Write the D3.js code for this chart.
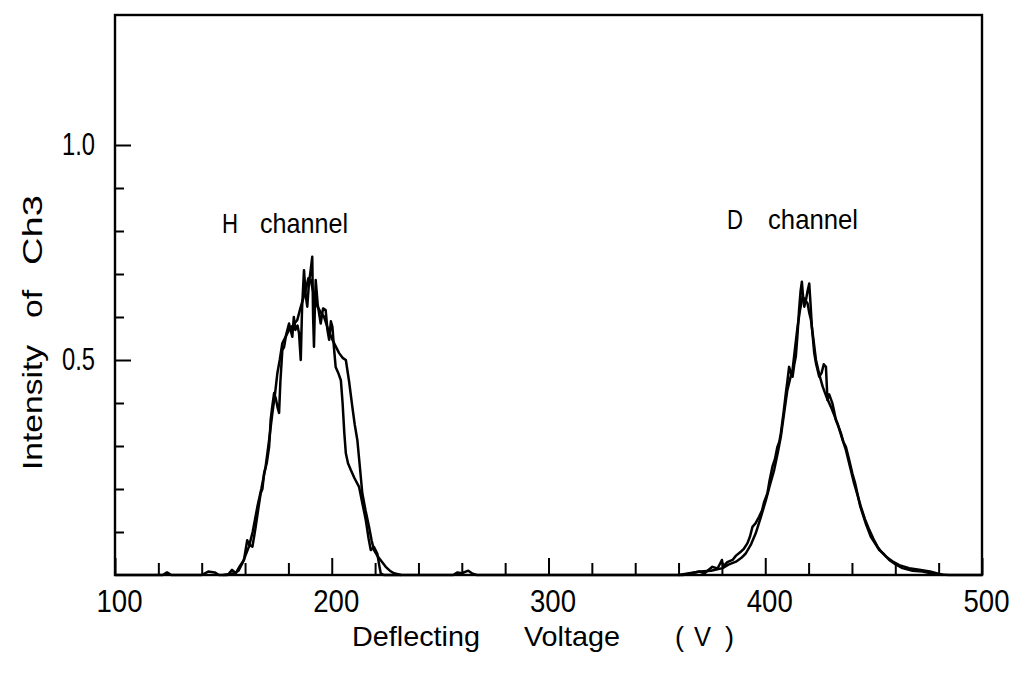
<!DOCTYPE html>
<html lang="en">
<head>
<meta charset="UTF-8">
<title>Intensity of Ch3 vs Deflecting Voltage</title>
<script src="https://d3js.org/d3.v7.min.js"></script>
<style>
  html, body { margin: 0; padding: 0; background: #fff; }
  svg { display: block; }
  text { font-family: "Liberation Sans", Arial, sans-serif; fill: #000; }
</style>
</head>
<body>
<div id="chart"></div>
<script>
// ---- data ----
const xTicksMajor = [100, 200, 300, 400, 500];
const xTicksMinor = [120, 140, 160, 180, 220, 240, 260, 280, 320, 340, 360, 380, 420, 440, 460, 480];
const yTicksMajor = [0.5, 1.0];
const yTicksMinor = [0.1, 0.2, 0.3, 0.4, 0.6, 0.7, 0.8, 0.9];
const yTickLabels = ['0.5', '1.0'];

// H channel, noisy trace  [voltage, intensity]
const hTrace1 = [
  [100,0],[122,0],[124,0.006],[126,0],[140,0],[143,0.008],[146,0.006],[148,0],[152,0],[154,0.012],
  [155.7,0.004],[157.5,0.02],[159.5,0.035],[161,0.081],[162,0.07],[163.4,0.066],[164.2,0.09],[164.9,0.112],
  [166,0.15],[167.2,0.19],[168,0.2],[168.8,0.237],[170,0.26],[171.1,0.298],[171.5,0.33],[171.8,0.36],
  [172.5,0.39],[173.4,0.423],[174.2,0.41],[175,0.39],[175.7,0.377],[176.3,0.45],[177.2,0.523],[178,0.53],
  [179,0.56],[180.3,0.585],[181,0.57],[181.8,0.554],[182.5,0.6],[183.2,0.57],[184.2,0.58],[184.9,0.562],
  [185.7,0.5],[186.3,0.62],[187.2,0.709],[188,0.65],[188.7,0.624],[189.5,0.68],[190.3,0.71],[191,0.74],
  [191.4,0.6],[191.8,0.531],[192.2,0.62],[192.6,0.686],[193.5,0.63],[194.9,0.585],[196,0.62],[197.2,0.616],
  [198,0.57],[198.8,0.547],[199.6,0.59],[200.3,0.577],[201,0.53],[201.8,0.484],[203,0.47],[204.2,0.453],
  [205,0.4],[205.8,0.33],[206.5,0.283],[207.5,0.26],[208.8,0.244],[210.5,0.225],[212.6,0.205],[214,0.17],
  [215.7,0.128],[217,0.085],[218,0.058],[219.5,0.065],[221,0.05],[222,0.02],[222.6,0.004],[224,0],
  [256,0],[258,0.006],[260,0.004],[263,0.01],[265,0.003],[267,0],[300,0]
];

// H channel, second (smoother) trace
const hTrace2 = [
  [150,0],[155,0.004],[157,0.01],[159,0.03],[161.8,0.066],[163.5,0.1],[165.7,0.159],[167.5,0.2],
  [169.5,0.252],[171,0.31],[172.6,0.376],[173.8,0.42],[174.9,0.469],[176,0.5],[177.2,0.539],[178.8,0.555],
  [180.3,0.57],[182,0.58],[184.1,0.593],[185.5,0.62],[188,0.663],[189.2,0.69],[190.3,0.686],[191.8,0.65],
  [193.4,0.624],[195,0.61],[196.4,0.601],[198.4,0.57],[200.3,0.547],[202,0.53],[203.4,0.516],[205,0.505],
  [206.5,0.5],[208,0.45],[209.5,0.391],[210.6,0.35],[211.8,0.314],[213,0.25],[214.1,0.19],[215.6,0.15],
  [217.2,0.112],[218.4,0.08],[219.5,0.058],[221,0.045],[222.5,0.035],[224.9,0.019],[226.8,0.01],
  [228.7,0.004],[232,0]
];

// D channel, noisy trace
const dTrace1 = [
  [300,0],[362,0],[366,0.004],[369.5,0.008],[372,0.004],[375.6,0.019],[378,0.015],[380,0.035],[380.6,0.02],
  [382.5,0.03],[384.9,0.035],[386.5,0.045],[388.7,0.054],[390,0.06],[391.8,0.074],[393,0.09],[394.1,0.112],
  [395.5,0.12],[397.2,0.136],[398.5,0.15],[399.5,0.17],[401,0.19],[402,0.22],[403.3,0.252],[404.5,0.27],
  [405.6,0.298],[406.5,0.31],[407.2,0.33],[408.5,0.38],[409.5,0.423],[410.2,0.45],[411,0.484],[411.8,0.47],
  [412.6,0.461],[413.4,0.49],[414.1,0.508],[414.9,0.56],[415.6,0.616],[416.3,0.66],[416.9,0.682],[417.4,0.65],
  [418,0.624],[418.8,0.64],[419.5,0.66],[420.3,0.678],[420.9,0.63],[421.5,0.577],[422,0.55],[422.6,0.516],
  [423.5,0.49],[424.9,0.461],[426,0.47],[427,0.49],[428,0.484],[428.7,0.407],[429.5,0.42],[431,0.399],
  [431.8,0.38],[432.6,0.36],[433.8,0.345],[434.9,0.33],[436,0.31],[437.2,0.298],[438.6,0.27],[440.2,0.236],
  [441.4,0.215],[442.5,0.19],[443.8,0.16],[444.9,0.143],[446.5,0.118],[448.7,0.089],[450.5,0.075],
  [452.6,0.058],[454.5,0.05],[457.2,0.035],[460,0.025],[463.3,0.016],[468,0.01],[472.6,0.008],[478,0.002],
  [485,0],[500,0]
];

// D channel, second trace
const dTrace2 = [
  [360,0],[365,0.004],[370,0.008],[375,0.01],[380.3,0.016],[383,0.024],[386.5,0.031],[389,0.04],[391,0.05],
  [393.5,0.072],[395.6,0.097],[398,0.135],[400.3,0.174],[402.2,0.21],[404.1,0.244],[405.8,0.285],[407.2,0.322],
  [408.8,0.38],[410.2,0.43],[411.4,0.455],[412.6,0.477],[413.8,0.53],[414.9,0.577],[416,0.615],[417.2,0.647],
  [418.3,0.64],[419.5,0.632],[420.3,0.61],[421.1,0.593],[422.3,0.545],[423.4,0.5],[425,0.465],[426.5,0.438],
  [428.4,0.412],[430.3,0.391],[431.8,0.372],[433.3,0.353],[435.2,0.322],[437.2,0.291],[439.1,0.252],
  [441,0.213],[442.6,0.185],[444.1,0.159],[446,0.13],[448,0.105],[450,0.083],[451.8,0.066],[453.7,0.053],
  [455.6,0.043],[458.7,0.032],[461.8,0.023],[466.4,0.016],[471,0.012],[476,0.008],[482,0]
];

const traces = [hTrace1, hTrace2, dTrace1, dTrace2];

// ---- layout ----
const width = 1020;
const height = 674;
const plot = { left: 115, right: 982, top: 15, bottom: 575 };

// words of the hand-lettered captions: [text, x, y, width]
const captionWords = [
  ['H', 222, 233, 16], ['channel', 260, 233, 88],
  ['D', 727, 229, 16], ['channel', 768, 229, 90],
  ['Deflecting', 352, 646, 128], ['Voltage', 524, 646, 96], ['(', 675, 646, 9], ['V', 694, 646, 17], [')', 725, 646, 9]
];
// rotated y title: [text, start y (screen), length]
const yTitleWords = [['Intensity', 470, 125], ['of', 318, 28], ['Ch3', 265, 70]];

const svg = d3.select('#chart')
  .append('svg')
  .attr('width', width)
  .attr('height', height);

const x = d3.scaleLinear().domain([100, 500]).range([plot.left, plot.right]);
const y = d3.scaleLinear().domain([0, 1.3]).range([plot.bottom, plot.bottom - 1.3 * 430]);

// frame
svg.append('rect')
  .attr('x', plot.left)
  .attr('y', plot.top)
  .attr('width', plot.right - plot.left)
  .attr('height', plot.bottom - plot.top)
  .attr('fill', 'none')
  .attr('stroke', '#000')
  .attr('stroke-width', 2.4);

// x axis: ticks point inward
const xMinor = d3.axisBottom(x).tickValues(xTicksMinor).tickSize(-12).tickFormat('');
const xMajor = d3.axisBottom(x).tickValues(xTicksMajor).tickSize(-17).tickPadding(15)
  .tickFormat(d3.format('d'));

svg.append('g').attr('transform', `translate(0,${plot.bottom})`).call(xMinor);
const gx = svg.append('g').attr('transform', `translate(0,${plot.bottom})`).call(xMajor);
gx.selectAll('text')
  .attr('font-size', 31)
  .attr('dy', '0.71em')
  .attr('dx', 4)
  .attr('textLength', 46)
  .attr('lengthAdjust', 'spacingAndGlyphs');

// y axis
const yMinor = d3.axisLeft(y).tickValues(yTicksMinor).tickSize(-9).tickFormat('');
const yMajor = d3.axisLeft(y).tickValues(yTicksMajor).tickSize(-16).tickPadding(20)
  .tickFormat((d, i) => yTickLabels[i]);

svg.append('g').attr('transform', `translate(${plot.left},0)`).call(yMinor);
const gy = svg.append('g').attr('transform', `translate(${plot.left},0)`).call(yMajor);
gy.selectAll('text')
  .attr('font-size', 31)
  .attr('textLength', 33)
  .attr('lengthAdjust', 'spacingAndGlyphs');

svg.selectAll('.domain').remove();
svg.selectAll('.tick line').attr('stroke', '#000').attr('stroke-width', 2);

// traces
const line = d3.line().x(d => x(d[0])).y(d => y(d[1]));
svg.append('g')
  .selectAll('path')
  .data(traces)
  .join('path')
  .attr('d', line)
  .attr('fill', 'none')
  .attr('stroke', '#000')
  .attr('stroke-width', 2.5)
  .attr('stroke-linejoin', 'round');

// captions
svg.append('g')
  .selectAll('text')
  .data(captionWords)
  .join('text')
  .attr('x', d => d[1])
  .attr('y', d => d[2])
  .attr('font-size', 28)
  .attr('textLength', d => d[3])
  .attr('lengthAdjust', 'spacingAndGlyphs')
  .text(d => d[0]);

svg.append('g')
  .attr('transform', 'translate(42,0) rotate(-90)')
  .selectAll('text')
  .data(yTitleWords)
  .join('text')
  .attr('x', d => -d[1])
  .attr('y', 0)
  .attr('font-size', 28)
  .attr('textLength', d => d[2])
  .attr('lengthAdjust', 'spacingAndGlyphs')
  .text(d => d[0]);
</script>
</body>
</html>
